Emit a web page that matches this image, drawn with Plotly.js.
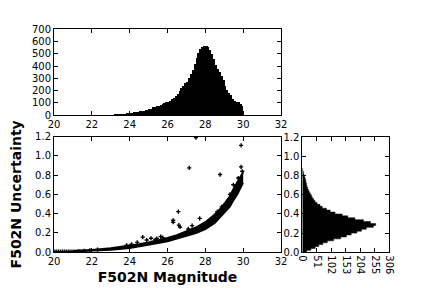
<!DOCTYPE html>
<html><head><meta charset="utf-8">
<script src="https://cdn.plot.ly/plotly-3.0.1.min.js"></script>
<style>html,body{margin:0;padding:0;background:#fff}#c{width:432px;height:288px}</style>
</head><body><div id="c"></div>
<script>
// Top histogram: magnitude bins (centers) and counts
const magBins = [22.75,22.85,22.95,23.05,23.15,23.25,23.35,23.45,23.55,23.65,23.75,23.85,23.95,
 24.05,24.15,24.25,24.35,24.45,24.55,24.65,24.75,24.85,24.95,25.05,25.15,25.25,25.35,25.45,25.55,
 25.65,25.75,25.85,25.95,26.05,26.15,26.25,26.35,26.45,26.55,26.65,26.75,26.85,26.95,27.05,27.15,
 27.25,27.35,27.45,27.55,27.65,27.75,27.85,27.95,28.05,28.15,28.25,28.35,28.45,28.55,28.65,28.75,
 28.85,28.95,29.05,29.15,29.25,29.35,29.45,29.55,29.65,29.75,29.85,29.95];
const magCounts = [3,4,5,5,6,8,7,10,11,12,14,15,18,
 20,22,24,27,30,32,35,38,40,44,48,55,68,65,72,78,
 82,88,98,105,108,118,132,140,155,175,195,225,240,262,270,305,
 340,370,420,470,510,540,555,565,565,555,530,495,455,410,375,350,
 320,285,240,205,185,165,135,120,110,105,95,75];

// Right histogram: uncertainty bins (centers) and counts
const errBins = [0.01,0.03,0.05,0.07,0.09,0.11,0.13,0.15,0.17,0.19,0.21,0.23,0.25,0.27,0.29,
 0.31,0.33,0.35,0.37,0.39,0.41,0.43,0.45,0.47,0.49,0.51,0.53,0.55,0.57,0.59,0.61,0.63,0.65,
 0.67,0.69,0.71,0.73,0.75,0.77,0.79,0.81,0.83,0.85,0.87];
const errCounts = [15,30,45,58,72,88,110,135,155,172,192,208,225,250,258,
 240,215,185,160,140,115,98,85,70,62,52,45,40,35,32,28,24,21,
 18,16,15,13,12,10,8,6,4,2,1];
const errBinWidth = 0.02;

// Dense band of the scatter: magnitude, lower and upper uncertainty edges
const bandMag  = [21.0,22.0,23.0,24.0,24.5,25.0,25.5,26.0,26.5,27.0,27.5,28.0,28.5,28.8,29.0,29.3,29.5,29.7,29.9,30.0];
const bandLow  = [0.004,0.010,0.022,0.040,0.055,0.070,0.090,0.110,0.135,0.165,0.195,0.235,0.300,0.360,0.400,0.470,0.540,0.600,0.680,0.720];
const bandHigh = [0.012,0.022,0.040,0.065,0.080,0.100,0.120,0.145,0.175,0.215,0.255,0.310,0.390,0.450,0.500,0.580,0.660,0.730,0.800,0.830];

// Individual points (faint tail and outliers)
const ptMag = [20.05,20.15,20.25,20.35,20.45,20.55,20.65,20.75,20.85,20.95,21.3,21.6,21.9,22.3,
 23.84,24.1,24.4,24.69,24.9,25.13,25.34,25.43,25.64,25.75,26.3,26.3,26.57,26.6,26.66,27.1,27.3,27.7,
 27.15,27.5,28.78,28.63,28.86,29.3,29.48,29.74,29.89,29.89,29.95];
const ptErr = [0.003,0.003,0.003,0.003,0.003,0.003,0.003,0.003,0.003,0.003,0.008,0.012,0.018,0.025,
 0.07,0.08,0.10,0.155,0.125,0.143,0.125,0.14,0.16,0.15,0.33,0.31,0.42,0.28,0.26,0.24,0.275,0.35,
 0.876,1.19,0.806,0.42,0.47,0.60,0.70,0.77,1.11,0.886,0.84];

const magTicks = [20,22,24,26,28,30,32];
const histTicks = [0,100,200,300,400,500,600,700];
const errTicks = [0,0.2,0.4,0.6,0.8,1.0,1.2];
const cntTicks = [0,51,102,153,204,255,306];

// Step outline of the horizontal histogram, built from the bins above
const stepX = [0], stepY = [errBins[0] - errBinWidth/2];
errBins.forEach((c, i) => {
  stepX.push(errCounts[i], errCounts[i]);
  stepY.push(c - errBinWidth/2, c + errBinWidth/2);
});
stepX.push(0); stepY.push(errBins[errBins.length-1] + errBinWidth/2);

const F = {family:'DejaVu Sans', size:10, color:'#000'};
const base = {showline:true, linecolor:'#000', linewidth:1, mirror:'ticks', ticks:'inside',
  ticklen:4, tickcolor:'#000', showgrid:false, zeroline:false, tickfont:F};

const traces = [
 {x:magBins, y:magCounts, type:'bar', width:0.13, marker:{color:'#000', line:{width:0}},
  xaxis:'x2', yaxis:'y2', hoverinfo:'none'},
 {x:stepX, y:stepY, mode:'lines', fill:'tozerox', fillcolor:'#000', line:{color:'#000', width:0.5},
  xaxis:'x3', yaxis:'y3', hoverinfo:'none'},
 {x:bandMag, y:bandLow, mode:'lines', line:{color:'#000', width:1.5}, xaxis:'x', yaxis:'y'},
 {x:bandMag, y:bandHigh, mode:'lines', fill:'tonexty', fillcolor:'#000', line:{color:'#000', width:2}, xaxis:'x', yaxis:'y'},
 {x:ptMag, y:ptErr, mode:'markers', marker:{color:'#000', size:3.5, symbol:'cross', line:{width:0}}, xaxis:'x', yaxis:'y'}
];

const layout = {
  width:432, height:288, margin:{l:0,r:0,t:0,b:0}, showlegend:false,
  paper_bgcolor:'#fff', plot_bgcolor:'#fff', bargap:0, barmode:'overlay', font:F,
  xaxis: Object.assign({}, base, {domain:[0.125,0.6505], range:[20,32], tickvals:magTicks, anchor:'y',
    title:{text:'<b>F502N Magnitude</b>', font:{family:'DejaVu Sans', size:14, color:'#000'}, standoff:6}}),
  yaxis: Object.assign({}, base, {domain:[0.125,0.5253], range:[0,1.2], tickvals:errTicks, tickformat:'.1f', anchor:'x',
    title:{text:'<b>F502N Uncertainty</b>', font:{family:'DejaVu Sans', size:14, color:'#000'}, standoff:10}}),
  xaxis2: Object.assign({}, base, {domain:[0.125,0.6505], range:[20,32], tickvals:magTicks, anchor:'y2'}),
  yaxis2: Object.assign({}, base, {domain:[0.5997,0.8983], range:[0,700], tickvals:histTicks, anchor:'x2'}),
  xaxis3: Object.assign({}, base, {domain:[0.6998,0.9012], range:[0,306], tickvals:cntTicks, tickangle:90, anchor:'y3'}),
  yaxis3: Object.assign({}, base, {domain:[0.124,0.5233], range:[0,1.2], tickvals:errTicks, tickformat:'.1f', anchor:'x3'})
};

Plotly.newPlot('c', traces, layout, {staticPlot:true, displayModeBar:false});
</script></body></html>
